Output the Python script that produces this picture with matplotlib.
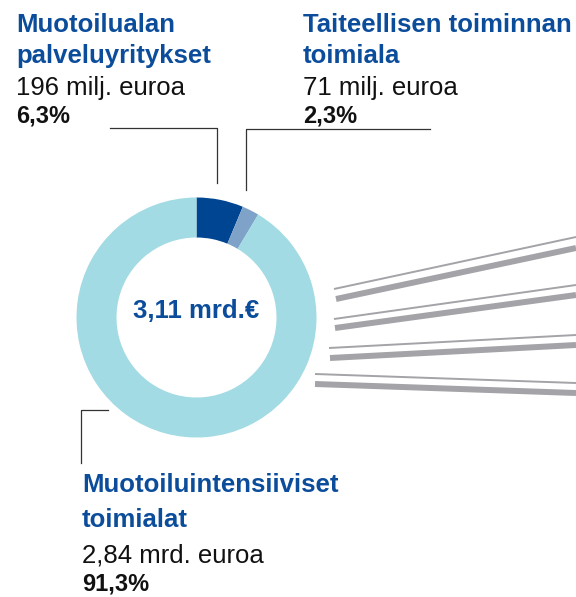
import matplotlib
matplotlib.use("Agg")
import matplotlib.pyplot as plt
from matplotlib.patches import Wedge

plt.rcParams['font.family'] = ['Liberation Sans', 'DejaVu Sans']

# data
segments = [["Muotoilualan", "palveluyritykset"],
            ["Taiteellisen toiminnan", "toimiala"],
            ["Muotoiluintensiiviset", "toimialat"]]
values = [196, 71, 2840]          # milj. euroa
amounts = ["196 milj. euroa", "71 milj. euroa", "2,84 mrd. euroa"]
shares = ["6,3%", "2,3%", "91,3%"]
total_label = "3,11 mrd.€"
colors = ["#004592", "#7fa2c9", "#a2dbe3"]

text_blue = "#0c4d9b"
gray = "#a3a3a8"

fig = plt.figure(figsize=(5.76, 5.97), dpi=100)
ax = fig.add_axes([0, 0, 1, 1])
ax.set_xlim(0, 576)
ax.set_ylim(597, 0)
ax.axis('off')

# donut, clockwise from the top (y axis is flipped)
cx, cy, r, w = 196.5, 317.5, 120, 40
total = sum(values)
start = -90
for v, c in zip(values, colors):
    end = start + v / total * 360
    ax.add_patch(Wedge((cx, cy), r, start, end, width=w, facecolor=c, edgecolor='none'))
    start = end

ax.text(cx - 0.5, cy + 0.5, total_label, ha='center', va='baseline', fontsize=18.5,
        fontweight='bold', color=text_blue)

# labels: x and baselines (heading 1, heading 2, amount, share)
label_pos = [(16.5, [32, 63, 95, 123]), (303, [32, 63, 95, 123]),
             (82, [492, 527, 562, 590])]
for (x, ys), name, amt, sh in zip(label_pos, segments, amounts, shares):
    for line, y in zip(name, ys[:2]):
        ax.text(x, y, line, ha='left', va='baseline', fontsize=18.5,
                fontweight='bold', color=text_blue)
    ax.text(x, ys[2], amt, ha='left', va='baseline', fontsize=18.5, color='#111111')
    ax.text(x, ys[3], sh, ha='left', va='baseline', fontsize=17,
            fontweight='bold', color='#111111')

# leader lines
lead = dict(color='#333333', lw=0.9)
ax.plot([110, 217, 217], [128, 128, 183], **lead)
ax.plot([430, 246, 246], [129, 129, 190], **lead)
ax.plot([108, 81, 81], [410, 410, 463], **lead)

# grey connector strokes toward the next chart
strokes = [
    ((334, 289), (576, 237), 1.4), ((336, 299), (576, 248), 4.3),
    ((334, 319), (576, 285), 1.4), ((335, 328), (576, 295), 4.3),
    ((329, 348), (576, 335), 1.4), ((330, 358), (576, 345), 4.3),
    ((315, 374), (576, 383), 1.4), ((315, 384), (576, 393), 4.3),
]
for (x0, y0), (x1, y1), lw in strokes:
    ax.plot([x0, x1], [y0, y1], color=gray, lw=lw, solid_capstyle='butt')

fig.savefig("out.png", dpi=100)
